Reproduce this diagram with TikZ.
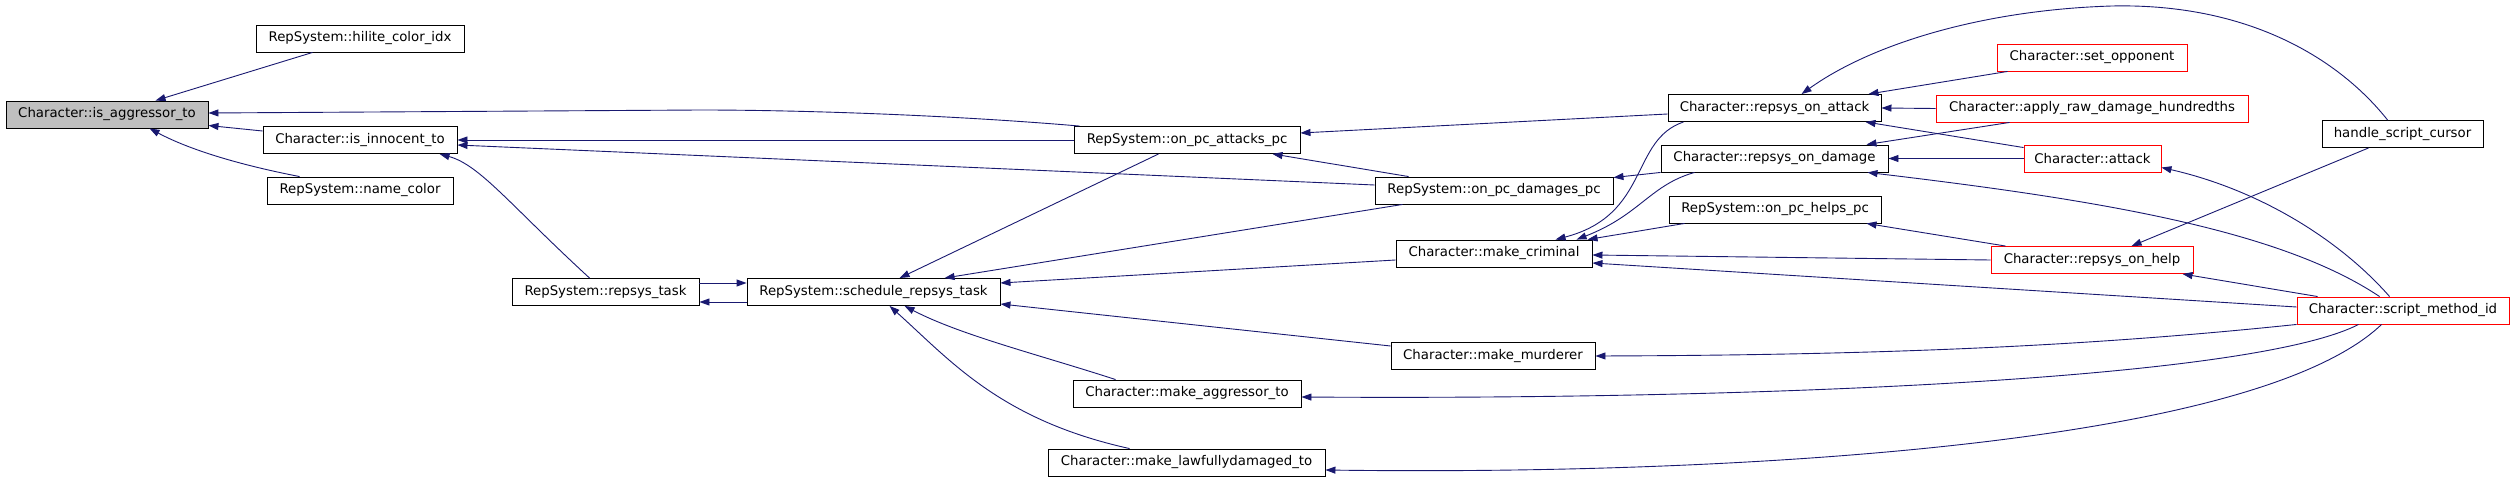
\documentclass[tikz,border=0pt]{standalone}
\usepackage{fontspec}
\setmainfont{DejaVu Sans}
\usetikzlibrary{arrows.meta}
\definecolor{edgecol}{HTML}{191970}
\definecolor{nodegray}{HTML}{BFBFBF}
\definecolor{extred}{HTML}{FF0000}
\begin{document}
\begin{tikzpicture}[x=1pt,y=-1pt,
  fn/.style={draw=black, line width=0.9pt, minimum height=27pt, inner sep=0pt,
    font=\fontsize{13.3}{16}\selectfont, anchor=center},
  extnode/.style={draw=extred},
  curnode/.style={fill=nodegray},
  edge/.style={draw=edgecol, line width=0.9pt, -{Triangle[length=10pt,width=7pt]}}
]
\useasboundingbox (0,0) rectangle (2515,481);
% nodes
\node[fn,curnode,minimum width=202pt] (agg) at (107,114.5) {Character::is\_aggressor\_to};
\node[fn,minimum width=208pt] (hilite) at (360,38.5) {RepSystem::hilite\_color\_idx};
\node[fn,minimum width=194pt] (innocent) at (360,140) {Character::is\_innocent\_to};
\node[fn,minimum width=186pt] (namecolor) at (360,190.5) {RepSystem::name\_color};
\node[fn,minimum width=187pt] (repsystask) at (605.5,292) {RepSystem::repsys\_task};
\node[fn,minimum width=226pt] (attackspc) at (1187,140) {RepSystem::on\_pc\_attacks\_pc};
\node[fn,minimum width=253pt] (schedule) at (873.5,292) {RepSystem::schedule\_repsys\_task};
\node[fn,minimum width=228pt] (makeagg) at (1187,393.5) {Character::make\_aggressor\_to};
\node[fn,minimum width=277pt] (makelawful) at (1186.5,462.5) {Character::make\_lawfullydamaged\_to};
\node[fn,minimum width=213pt] (onattack) at (1774.5,108) {Character::repsys\_on\_attack};
\node[fn,minimum width=227pt] (ondamage) at (1774.5,158.5) {Character::repsys\_on\_damage};
\node[fn,minimum width=238pt] (damagespc) at (1494,190.5) {RepSystem::on\_pc\_damages\_pc};
\node[fn,minimum width=212pt] (helpspc) at (1775,209.5) {RepSystem::on\_pc\_helps\_pc};
\node[fn,minimum width=196pt] (criminal) at (1494,253.5) {Character::make\_criminal};
\node[fn,minimum width=204pt] (murderer) at (1493,356) {Character::make\_murderer};
\node[fn,extnode,minimum width=190pt] (setopp) at (2092,57.5) {Character::set\_opponent};
\node[fn,extnode,minimum width=312pt] (applyraw) at (2092,108.5) {Character::apply\_raw\_damage\_hundredths};
\node[fn,extnode,minimum width=137pt] (attack) at (2092.5,158.5) {Character::attack};
\node[fn,minimum width=161pt] (hsc) at (2402.5,134) {handle\_script\_cursor};
\node[fn,extnode,minimum width=202pt] (onhelp) at (2092,260) {Character::repsys\_on\_help};
\node[fn,extnode,minimum width=212pt] (smi) at (2403,310.5) {Character::script\_method\_id};
% edges (caller -> callee)
\draw[edge] ([xshift=57pt]hilite.south west) -- ([xshift=150pt]agg.north west);
\draw[edge] ([yshift=9pt]innocent.west) -- ([yshift=-11pt]agg.east);
\draw[edge] ([xshift=33pt]namecolor.north west) .. controls (240,165) and (190,150) .. ([xshift=144pt]agg.south west);
\draw[edge] ([xshift=6pt]attackspc.north west) .. controls (950,115) and (800,110) .. (700,110) -- ([yshift=1.5pt]agg.east);
\draw[edge] (attackspc.west) -- (innocent.east);
\draw[edge] ([yshift=5.5pt]damagespc.west) -- ([yshift=-5pt]innocent.east);
\draw[edge] ([xshift=78pt]repsystask.north west) .. controls (510,205) and (480,165) .. ([xshift=177pt]innocent.south west);
\draw[edge] ([yshift=9pt]repsystask.east) -- ([yshift=9pt]schedule.west);
\draw[edge] ([yshift=-10pt]schedule.west) -- ([yshift=-10pt]repsystask.east);
\draw[edge] ([xshift=85pt]attackspc.south west) -- ([xshift=153pt]schedule.north west);
\draw[edge] ([xshift=28pt]damagespc.south west) -- ([xshift=198pt]schedule.north west);
\draw[edge] ([yshift=-6.5pt]criminal.west) -- ([yshift=9pt]schedule.east);
\draw[edge] ([yshift=10pt]murderer.west) -- ([yshift=-12pt]schedule.east);
\draw[edge] ([xshift=43pt]makeagg.north west) .. controls (1040,355) and (960,335) .. ([xshift=158pt]schedule.south west);
\draw[edge] ([xshift=82pt]makelawful.north west) .. controls (1000,420) and (950,360) .. ([xshift=143pt]schedule.south west);
\draw[edge] ([yshift=-6pt]onattack.west) -- ([yshift=7pt]attackspc.east);
\draw[edge] ([xshift=34pt]damagespc.north west) -- ([xshift=-28pt]attackspc.south east);
\draw[edge] (ondamage.south west) -- ([yshift=-1pt]damagespc.north east);
\draw[edge] ([xshift=16pt]onattack.south west) .. controls (1630,140) and (1650,215) .. ([xshift=160pt]criminal.north west);
\draw[edge] ([xshift=34pt]ondamage.south west) .. controls (1650,185) and (1640,215) .. ([xshift=181pt]criminal.north west);
\draw[edge] ([xshift=16pt]helpspc.south west) -- ([xshift=192pt]criminal.north west);
\draw[edge] (onhelp.west) -- ([yshift=-1.5pt]criminal.east);
\draw[edge] ([yshift=3.5pt]smi.west) -- ([yshift=-9.5pt]criminal.east);
\draw[edge] (smi.south west) .. controls (2100,345) and (1900,355) .. (murderer.east);
\draw[edge] ([xshift=62pt]smi.south west) .. controls (2250,380) and (1750,400) .. ([yshift=-3.5pt]makeagg.east);
\draw[edge] ([xshift=85pt]smi.south west) .. controls (2250,450) and (1700,475) .. ([yshift=-7.5pt]makelawful.east);
\draw[edge] ([xshift=66pt]hsc.north west) .. controls (2340,60) and (2250,3) .. (2112,6) .. controls (1980,10) and (1870,45) .. ([xshift=134pt]onattack.north west);
\draw[edge] ([xshift=11pt]setopp.south west) -- ([xshift=-13pt]onattack.north east);
\draw[edge] (applyraw.west) -- (onattack.east);
\draw[edge] ([yshift=-3pt]attack.north west) -- ([xshift=-16pt]onattack.south east);
\draw[edge] ([xshift=74pt]applyraw.south west) -- ([xshift=-22pt]ondamage.north east);
\draw[edge] (attack.west) -- (ondamage.east);
\draw[edge] ([xshift=83pt]smi.north west) .. controls (2280,230) and (2100,200) .. ([xshift=-21pt]ondamage.south east);
\draw[edge] ([xshift=15pt]onhelp.north west) -- ([xshift=-15pt]helpspc.south east);
\draw[edge] ([xshift=93pt]smi.north west) .. controls (2340,240) and (2260,190) .. ([yshift=-9pt]attack.east);
\draw[edge] ([xshift=21pt]smi.north west) -- ([xshift=-11pt]onhelp.south east);
\draw[edge] ([xshift=47pt]hsc.south west) -- ([xshift=141pt]onhelp.north west);
\end{tikzpicture}
\end{document}
